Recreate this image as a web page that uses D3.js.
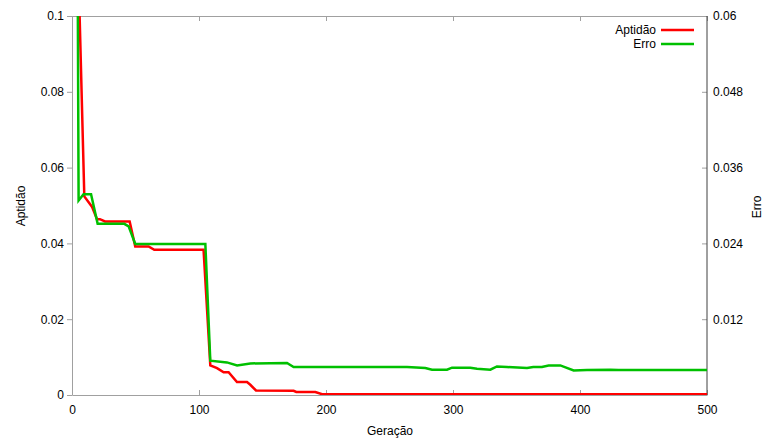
<!DOCTYPE html>
<html>
<head>
<meta charset="utf-8">
<script src="https://cdn.jsdelivr.net/npm/d3@7"></script>
<style>
  body { margin: 0; background: #fff; }
  svg { font-family: "Liberation Sans", Arial, sans-serif; }
  .axis path, .axis line { stroke: #a0a0a0; }
  .axis text { fill: #000; font-size: 12px; }
</style>
</head>
<body>
<svg width="764" height="439"></svg>
<script>
// geração (x) and aptidão (left axis)
var aptGen = [0, 6, 9.7, 15.7, 19.7, 22, 26, 45.4, 49.8, 60.3, 64.8, 103.6, 108.9, 114.2, 119.4, 123.3, 129.9, 137.8, 140.4, 144.9, 174.5, 176.6, 191.6, 196.9, 500];
var aptVal = [0.15, 0.1, 0.0524, 0.0497, 0.0464, 0.0464, 0.0458, 0.0458, 0.0392, 0.0392, 0.0383, 0.0383, 0.0078, 0.0071, 0.0060, 0.0060, 0.0034, 0.0034, 0.0027, 0.0012, 0.0011, 0.0008, 0.0008, 0.0002, 0.0002];

// geração and erro (right axis)
var erroGen = [0, 4, 5.2, 9.1, 15, 20.2, 41.2, 44.6, 49.8, 105, 108.9, 122, 130, 140.4, 169.3, 174.5, 263.8, 278.2, 283.5, 295.3, 299.2, 313.6, 318.9, 329.4, 334.6, 342.5, 358.3, 363.2, 370, 375.3, 384.5, 395, 405.5, 423.9, 430.4, 500];
var erroVal = [0.09, 0.09, 0.0308, 0.0318, 0.0318, 0.0271, 0.0271, 0.0267, 0.0239, 0.0239, 0.00543, 0.00516, 0.00468, 0.0050, 0.00506, 0.00443, 0.00443, 0.00427, 0.0040, 0.0040, 0.00432, 0.00432, 0.00416, 0.0040, 0.00452, 0.00443, 0.00427, 0.00443, 0.00443, 0.00468, 0.00468, 0.00389, 0.00395, 0.0040, 0.00395, 0.00395];

var xTicks = [0, 100, 200, 300, 400, 500];
var yTicks = [0, 0.02, 0.04, 0.06, 0.08, 0.1];
var y2Ticks = [0.012, 0.024, 0.036, 0.048, 0.06];

var margin = {left: 72, top: 16, right: 57, bottom: 44};
var width = 764 - margin.left - margin.right,
    height = 439 - margin.top - margin.bottom;

var svg = d3.select("svg");
var g = svg.append("g").attr("transform", "translate(" + margin.left + "," + margin.top + ")");

var x = d3.scaleLinear().domain([0, 500]).range([0, width]);
var y = d3.scaleLinear().domain([0, 0.1]).range([height, 0]);
var y2 = d3.scaleLinear().domain([0, 0.06]).range([height, 0]);

g.append("clipPath").attr("id", "clip")
    .append("rect").attr("width", width).attr("height", height);

// bottom axis, ticks pointing in
g.append("g").attr("class", "axis")
    .attr("transform", "translate(0," + height + ")")
    .call(d3.axisBottom(x).tickValues(xTicks).tickFormat(d3.format("d")).tickSize(-5).tickSizeOuter(0).tickPadding(10));

// top border with mirrored ticks
g.append("g").attr("class", "axis")
    .call(d3.axisTop(x).tickValues(xTicks).tickFormat("").tickSize(-5).tickSizeOuter(0));

// left axis
g.append("g").attr("class", "axis")
    .call(d3.axisLeft(y).tickValues(yTicks).tickFormat(function (d) { return d3.format("~g")(d); }).tickSize(5).tickSizeOuter(0).tickPadding(3));

// right axis (erro)
var right = g.append("g").attr("class", "axis")
    .attr("transform", "translate(" + width + ",0)")
    .call(d3.axisRight(y2).tickValues(y2Ticks).tickFormat(function (d) { return d3.format("~g")(+d.toFixed(3)); }).tickSize(-5).tickSizeOuter(0).tickPadding(6));
right.select(".domain").remove();
g.append("line")
    .attr("x1", width).attr("x2", width)
    .attr("y1", 0).attr("y2", height)
    .attr("stroke", "#404040");

var aptData = aptGen.map(function (d, i) { return [d, aptVal[i]]; });
var erroData = erroGen.map(function (d, i) { return [d, erroVal[i]]; });

var lineApt = d3.line().x(function (d) { return x(d[0]); }).y(function (d) { return y(d[1]); });
var lineErro = d3.line().x(function (d) { return x(d[0]); }).y(function (d) { return y2(d[1]); });

var plot = g.append("g").attr("clip-path", "url(#clip)");
plot.append("path").datum(aptData)
    .attr("d", lineApt)
    .attr("fill", "none").attr("stroke", "#ff0000").attr("stroke-width", 2.5);
plot.append("path").datum(erroData)
    .attr("d", lineErro)
    .attr("fill", "none").attr("stroke", "#00c000").attr("stroke-width", 2.5);

// legend
var legend = [["Aptidão", "#ff0000"], ["Erro", "#00c000"]];
legend.forEach(function (l, i) {
    var ly = 14 + i * 14;
    g.append("text").attr("x", 584).attr("y", ly).attr("dy", "0.35em")
        .attr("text-anchor", "end").attr("font-size", 12).text(l[0]);
    g.append("line").attr("x1", 589).attr("x2", 622).attr("y1", ly).attr("y2", ly)
        .attr("stroke", l[1]).attr("stroke-width", 2.5);
});

// axis labels
svg.append("text").attr("transform", "translate(25,206) rotate(-90)")
    .attr("text-anchor", "middle").attr("font-size", 12).text("Aptidão");
svg.append("text").attr("transform", "translate(761,207) rotate(-90)")
    .attr("text-anchor", "middle").attr("font-size", 12).text("Erro");
svg.append("text").attr("x", 390).attr("y", 435)
    .attr("text-anchor", "middle").attr("font-size", 12).text("Geração");
</script>
</body>
</html>
